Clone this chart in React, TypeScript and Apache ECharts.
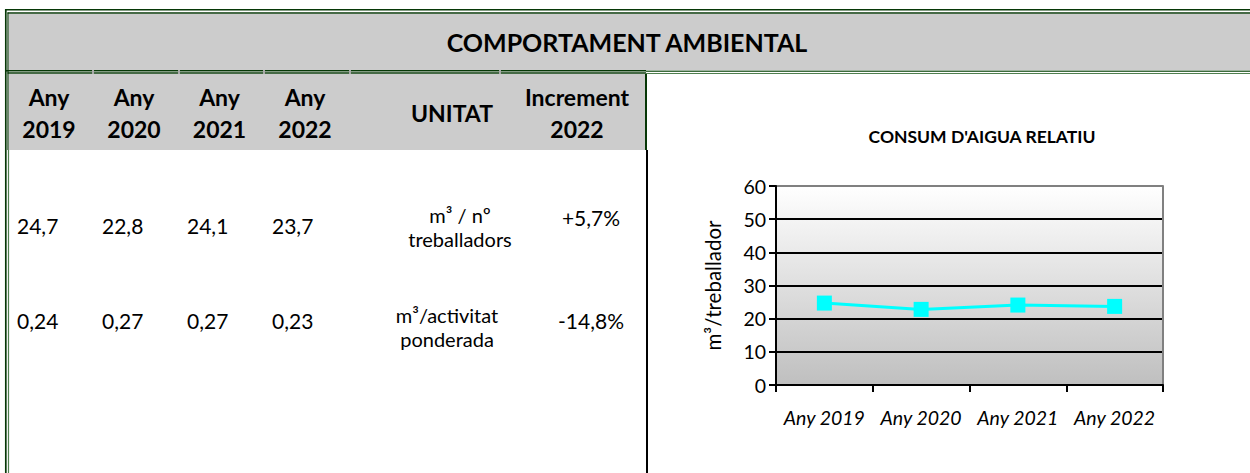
import React, { useEffect, useRef } from "react";
import * as echarts from "echarts";

const years = ["Any 2019", "Any 2020", "Any 2021", "Any 2022"];
const headerYears = ["2019", "2020", "2021", "2022"];
const waterPerWorker = [24.7, 22.8, 24.1, 23.7];
const waterPerActivity = [0.24, 0.27, 0.27, 0.23];
const increments = ["+5,7%", "-14,8%"];
const unitsRow1 = ["m³ / nº", "treballadors"];
const unitsRow2 = ["m³/activitat", "ponderada"];
const yTicks = [0, 10, 20, 30, 40, 50, 60];

const FONT = "Lato, 'Open Sans', sans-serif";
const DARK = "#073807";
const LIGHT = "#4f7f4f";

function fmt(v: number, d: number) {
  return v.toFixed(d).replace(".", ",");
}

export default function App() {
  const ref = useRef<HTMLDivElement>(null);
  useEffect(() => {
    if (!ref.current) return;
    const chart = echarts.init(ref.current, null, { renderer: "svg" });

    const txt = (x: number, y: number, text: string, size: number, bold: boolean, align = "center", lh = 0) => ({
      type: "text",
      x,
      y,
      silent: true,
      style: {
        text,
        fill: "#000",
        font: `${bold ? "bold " : ""}${size}px ${FONT}`,
        fontFamily: FONT,
        fontSize: size,
        fontWeight: bold ? "bold" : "normal",
        textAlign: align,
        align,
        textVerticalAlign: "middle",
        verticalAlign: "middle",
        lineHeight: lh || undefined,
      },
    });
    const ln = (x1: number, y1: number, x2: number, y2: number, stroke: string, w: number) => ({
      type: "line",
      silent: true,
      shape: { x1, y1, x2, y2 },
      style: { stroke, lineWidth: w },
    });

    const colCenters = [49, 134, 219.5, 305];
    const colLeft = [17, 102, 187, 272];

    const graphics: any[] = [
      { type: "rect", silent: true, shape: { x: 9, y: 14, width: 1241, height: 56 }, style: { fill: "#cccccc" } },
      { type: "rect", silent: true, shape: { x: 9, y: 74, width: 637, height: 76 }, style: { fill: "#cccccc" } },
      ln(5, 9.8, 1250, 9.8, DARK, 1.6),
      ln(7.5, 13, 1250, 13, DARK, 1.3),
      ln(5.8, 9, 5.8, 473, DARK, 1.7),
      ln(8, 12.5, 8, 150, DARK, 1.2),
      ln(8.5, 150, 8.5, 473, LIGHT, 1.2),
      ln(5, 70.8, 646, 70.8, DARK, 1.5),
      ln(7.5, 73, 646, 73, DARK, 1.3),
      ln(646, 71.3, 1250, 71.3, "#3d6b3d", 1.4),
      ln(646, 73.5, 1250, 73.5, LIGHT, 1.2),
      ln(646, 74, 646, 150, DARK, 2),
      ln(647, 150, 647, 473, "#000", 2),
      txt(627, 42, "COMPORTAMENT AMBIENTAL", 25, true),
      txt(452, 113, "UNITAT", 23, true),
      txt(577, 113, "Increment\n2022", 23, true, "center", 32),
    ];
    [93, 179, 264, 350, 500].forEach((x) => {
      graphics.push({ type: "rect", silent: true, shape: { x: x - 1, y: 70, width: 2, height: 4 }, style: { fill: "#a9a9a9" } });
    });
    headerYears.forEach((y, i) => {
      graphics.push(txt(colCenters[i], 113, "Any\n" + y, 23, true, "center", 32));
    });
    waterPerWorker.forEach((v, i) => {
      graphics.push(txt(colLeft[i], 225, fmt(v, 1), 21, false, "left"));
    });
    waterPerActivity.forEach((v, i) => {
      graphics.push(txt(colLeft[i], 320, fmt(v, 2), 21, false, "left"));
    });
    graphics.push(txt(460, 227, unitsRow1.join("\n"), 20, false, "center", 24));
    graphics.push(txt(447, 327, unitsRow2.join("\n"), 20, false, "center", 24));
    graphics.push(txt(591, 217, increments[0], 21, false, "center"));
    graphics.push(txt(591, 320, increments[1], 21, false, "center"));

    const splitColors = yTicks.map((t, i) => (i === yTicks.length - 1 ? "#808080" : "#000000"));

    chart.setOption({
      animation: false,
      title: {
        text: "CONSUM D'AIGUA RELATIU",
        left: 977,
        top: 122,
        textAlign: "center",
        textStyle: { fontFamily: FONT, fontWeight: "bold", fontSize: 17.5, color: "#000" },
      },
      graphic: graphics,
      grid: {
        left: 776,
        top: 186,
        width: 387,
        height: 199,
        show: true,
        borderWidth: 0,
        backgroundColor: new echarts.graphic.LinearGradient(0, 0, 0, 1, [
          { offset: 0, color: "#ffffff" },
          { offset: 1, color: "#bfbfbf" },
        ]),
      },
      xAxis: {
        type: "category",
        data: years,
        boundaryGap: true,
        axisLine: { lineStyle: { color: "#000", width: 2 } },
        axisTick: { show: true, inside: false, length: 7, lineStyle: { color: "#000", width: 2 } },
        axisLabel: { margin: 22, color: "#000", fontFamily: FONT, fontSize: 19.5, fontStyle: "italic", interval: 0 },
      },
      yAxis: [
        {
          type: "value",
          min: 0,
          max: 60,
          interval: 10,
          name: "m³/treballador",
          nameLocation: "middle",
          nameGap: 53,
          nameRotate: 90,
          nameTextStyle: { fontFamily: FONT, fontSize: 20.5, color: "#000" },
          axisLine: { show: true, lineStyle: { color: "#000", width: 2 } },
          axisTick: { show: true, inside: false, length: 7, lineStyle: { color: "#000", width: 2 } },
          axisLabel: { margin: 10, color: "#000", fontFamily: FONT, fontSize: 19.5 },
          splitLine: { show: true, lineStyle: { color: splitColors, width: 2 } },
        },
        {
          type: "value",
          min: 0,
          max: 60,
          interval: 10,
          position: "right",
          axisLine: { show: true, lineStyle: { color: "#808080", width: 2 } },
          axisTick: { show: false },
          axisLabel: { show: false },
          splitLine: { show: false },
        },
      ],
      series: [
        {
          type: "line",
          data: waterPerWorker,
          yAxisIndex: 0,
          symbol: "rect",
          symbolSize: 15,
          itemStyle: { color: "#00ffff" },
          lineStyle: { color: "#00ffff", width: 3 },
          z: 5,
        },
      ],
    });
    return () => chart.dispose();
  }, []);
  return <div ref={ref} style={{ position: "absolute", left: 0, top: 0, width: 1250, height: 473 }} />;
}
